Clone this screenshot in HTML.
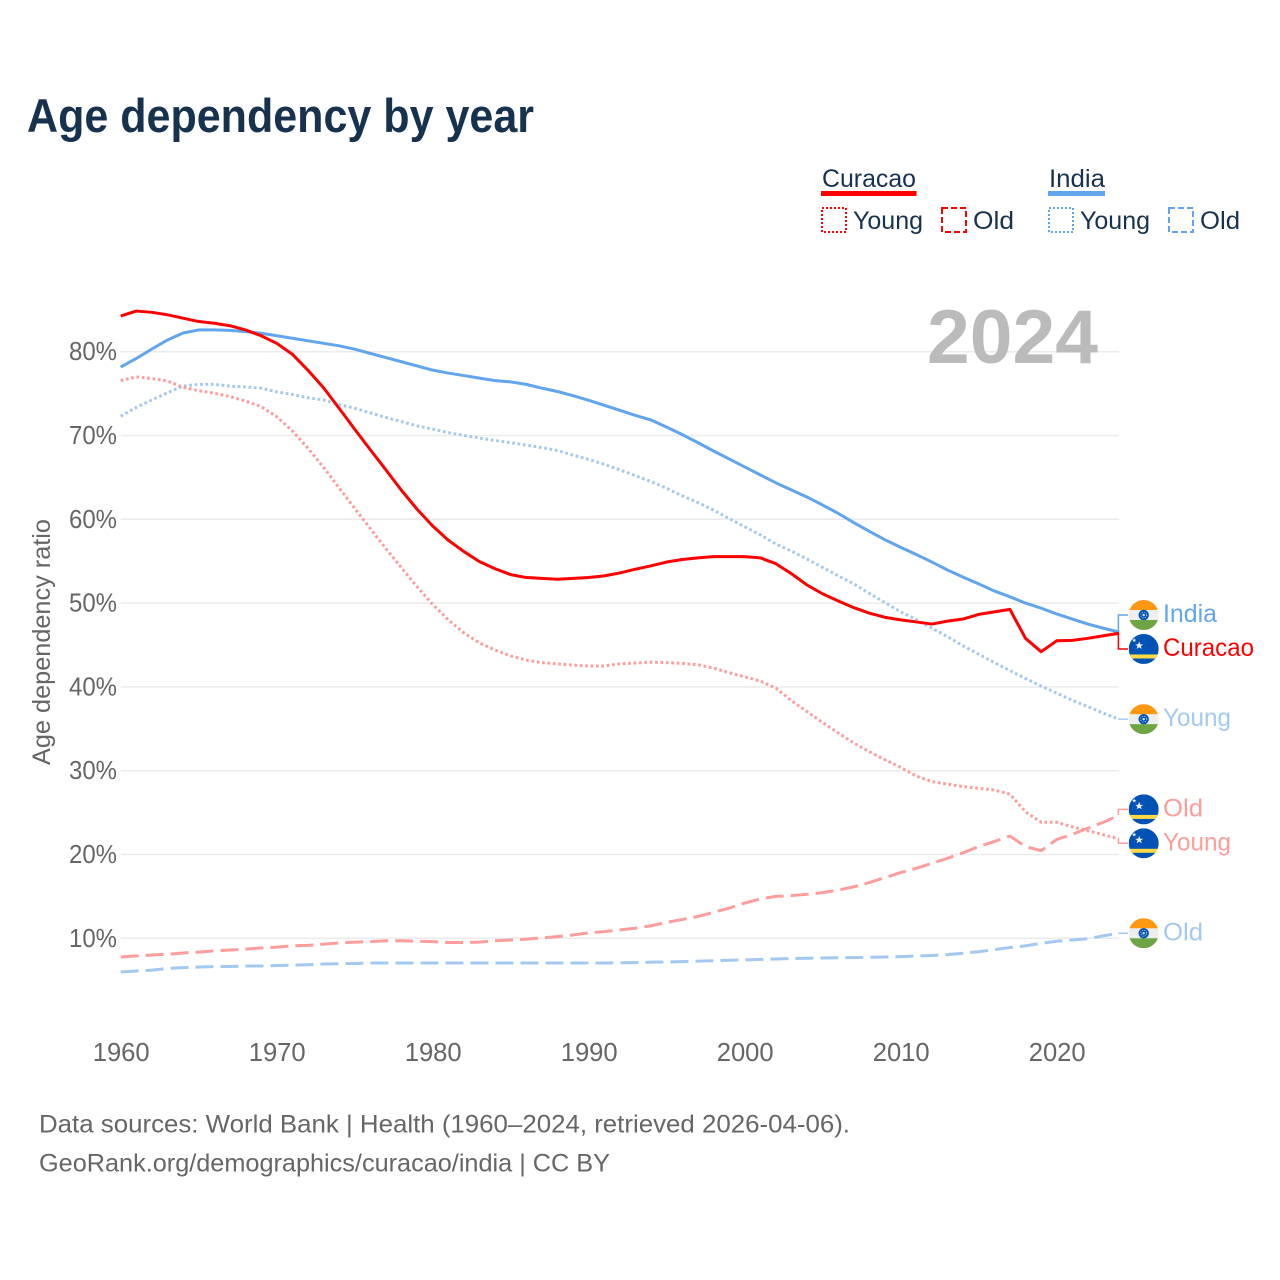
<!DOCTYPE html>
<html lang="en">
<head>
<meta charset="utf-8">
<title>Age dependency by year</title>
<style>
  html, body { margin: 0; padding: 0; background: #fff; }
  svg { display: block; font-family: "Liberation Sans", sans-serif; }
</style>
</head>
<body>
<svg id="chart" xmlns="http://www.w3.org/2000/svg" width="1280" height="1280" viewBox="0 0 1280 1280">
  <defs>
    <clipPath id="flag-clip"><circle cx="0" cy="0" r="15"></circle></clipPath>
    <g id="flag-india" clip-path="url(#flag-clip)">
      <rect x="-15" y="-15" width="30" height="30" fill="#eeeeee"></rect>
      <rect x="-15" y="-15" width="30" height="10" fill="#ff9811"></rect>
      <rect x="-15" y="5" width="30" height="10" fill="#6da544"></rect>
      <circle r="5.2" fill="#0052b4"></circle>
      <circle r="3" fill="none" stroke="#b9cfe8" stroke-width="0.9" stroke-dasharray="1.2 1.2"></circle>
      <circle r="1.2" fill="#dfe8f2"></circle>
    </g>
    <g id="flag-curacao" clip-path="url(#flag-clip)">
      <rect x="-15" y="-15" width="30" height="30" fill="#0052b4"></rect>
      <rect x="-15" y="5.5" width="30" height="4" fill="#ffda44"></rect>
      <polygon points="-4.5,-7.5 -3.4,-4.6 -0.4,-4.6 -2.8,-2.8 -1.9,0 -4.5,-1.7 -7.1,0 -6.2,-2.8 -8.6,-4.6 -5.6,-4.6" fill="#eeeeee"></polygon>
      <polygon points="-9.5,-11 -8.9,-9.4 -7.3,-9.4 -8.6,-8.4 -8.1,-6.8 -9.5,-7.8 -10.9,-6.8 -10.4,-8.4 -11.7,-9.4 -10.1,-9.4" fill="#eeeeee"></polygon>
    </g>
  </defs>

  <rect x="0" y="0" width="1280" height="1280" fill="#ffffff"></rect>

  <text x="27" y="132" font-size="47" font-weight="700" fill="#17324f" textLength="507" lengthAdjust="spacingAndGlyphs">Age dependency by year</text>

  <g font-size="25" fill="#17324f">
    <text x="822" y="187" textLength="94" lengthAdjust="spacingAndGlyphs">Curacao</text>
    <rect x="821" y="191" width="95.5" height="5" fill="#ff0000"></rect>
    <rect x="822" y="208" width="24" height="24" fill="none" stroke="#ff0000" stroke-width="2" stroke-dasharray="2 2"></rect>
    <text x="853" y="229" textLength="70" lengthAdjust="spacingAndGlyphs">Young</text>
    <rect x="942" y="208" width="24" height="24" fill="none" stroke="#ff0000" stroke-width="2" stroke-dasharray="6 3"></rect>
    <text x="973" y="229" textLength="41" lengthAdjust="spacingAndGlyphs">Old</text>

    <text x="1049" y="187" textLength="56" lengthAdjust="spacingAndGlyphs">India</text>
    <rect x="1048" y="191" width="57" height="5" fill="#60a5ee"></rect>
    <rect x="1049" y="208" width="24" height="24" fill="none" stroke="#60a5ee" stroke-width="2" stroke-dasharray="2 2"></rect>
    <text x="1080" y="229" textLength="70" lengthAdjust="spacingAndGlyphs">Young</text>
    <rect x="1169" y="208" width="24" height="24" fill="none" stroke="#60a5ee" stroke-width="2" stroke-dasharray="6 3"></rect>
    <text x="1200" y="229" textLength="40" lengthAdjust="spacingAndGlyphs">Old</text>
  </g>

  <text transform="translate(50,642) rotate(-90)" text-anchor="middle" font-size="25" fill="#666666" textLength="246" lengthAdjust="spacingAndGlyphs">Age dependency ratio</text>

  <g id="grid"></g>
  <g id="y-ticks"></g>
  <g id="x-ticks"></g>

  <text x="927" y="363" font-size="76" font-weight="700" fill="#bbbbbb" textLength="171" lengthAdjust="spacingAndGlyphs">2024</text>

  <g id="series"></g>
  <g id="end-labels"></g>

  <text x="39" y="1132.5" font-size="25" fill="#666666" textLength="811" lengthAdjust="spacingAndGlyphs">Data sources: World Bank | Health (1960–2024, retrieved 2026-04-06).</text>
  <text x="39" y="1171.5" font-size="25" fill="#666666" textLength="571" lengthAdjust="spacingAndGlyphs">GeoRank.org/demographics/curacao/india | CC BY</text>

<script>
const startYear = 1960;
const xTickLabels = [1960, 1970, 1980, 1990, 2000, 2010, 2020];
const yTickLabels = [10, 20, 30, 40, 50, 60, 70, 80];

const curacaoTotal = [
  84.26, 84.85, 84.7, 84.4, 84.0, 83.6, 83.4, 83.1, 82.6, 81.9,
  81.0, 79.7, 77.8, 75.7, 73.25, 70.75, 68.3, 65.9, 63.45, 61.2,
  59.2, 57.5, 56.15, 54.95, 54.1, 53.4, 53.05, 52.95, 52.85, 52.95,
  53.05, 53.25, 53.6, 54.05, 54.45, 54.9, 55.2, 55.4, 55.55, 55.55,
  55.55, 55.4, 54.7, 53.5, 52.15, 51.1, 50.25, 49.45, 48.8, 48.3,
  48.0, 47.75, 47.5, 47.85, 48.1, 48.65, 48.95, 49.25, 45.8, 44.2,
  45.5, 45.55, 45.8, 46.1, 46.4
];
const indiaTotal = [
  78.17, 79.19, 80.32, 81.4, 82.23, 82.6, 82.6, 82.55, 82.4, 82.2,
  81.9, 81.6, 81.3, 81.0, 80.7, 80.3, 79.8, 79.3, 78.8, 78.3,
  77.8, 77.45, 77.15, 76.85, 76.55, 76.4, 76.1, 75.65, 75.25, 74.75,
  74.2, 73.6, 73.0, 72.4, 71.85, 71.0, 70.1, 69.15, 68.15, 67.2,
  66.25, 65.3, 64.35, 63.5, 62.65, 61.7, 60.7, 59.6, 58.55, 57.55,
  56.65, 55.8, 54.9, 53.95, 53.1, 52.3, 51.45, 50.75, 50.0, 49.4,
  48.7, 48.1, 47.5, 47.0, 46.55
];
const curacaoYoung = [
  76.55, 77.0, 76.8, 76.5, 75.75, 75.35, 75.05, 74.65, 74.1, 73.45,
  72.25, 70.55, 68.5, 66.2, 63.75, 61.3, 58.9, 56.5, 54.2, 51.95,
  49.85, 48.0, 46.45, 45.25, 44.4, 43.7, 43.2, 42.9, 42.75, 42.6,
  42.5, 42.5, 42.75, 42.85, 42.95, 42.9, 42.8, 42.65, 42.25, 41.7,
  41.2, 40.7, 39.85, 38.35, 37.05, 35.75, 34.5, 33.3, 32.25, 31.3,
  30.4, 29.35, 28.7, 28.4, 28.1, 27.9, 27.7, 27.2, 25.1, 23.85,
  23.85, 23.3, 22.85, 22.35, 21.85
];
const indiaYoung = [
  72.3, 73.35, 74.25, 75.1, 75.9, 76.1, 76.1, 75.9, 75.8, 75.65,
  75.2, 74.9, 74.5, 74.25, 73.7, 73.25, 72.7, 72.15, 71.65, 71.15,
  70.75, 70.35, 70.0, 69.7, 69.4, 69.15, 68.85, 68.55, 68.2, 67.65,
  67.15, 66.55, 65.9, 65.2, 64.5, 63.7, 62.8, 62.0, 61.1, 60.1,
  59.1, 58.15, 57.05, 56.2, 55.25, 54.25, 53.25, 52.3, 51.15, 50.05,
  48.95, 48.05, 47.0, 46.0, 44.9, 43.9, 42.9, 41.95, 41.0, 40.1,
  39.25, 38.4, 37.65, 36.85, 36.15
];
const curacaoOld = [
  7.77, 7.9, 8.0, 8.1, 8.25, 8.35, 8.5, 8.6, 8.7, 8.85,
  8.95, 9.1, 9.15, 9.3, 9.45, 9.55, 9.6, 9.7, 9.7, 9.65,
  9.6, 9.5, 9.5, 9.55, 9.7, 9.8, 9.9, 10.05, 10.2, 10.4,
  10.65, 10.8, 11.0, 11.2, 11.5, 11.9, 12.25, 12.6, 13.1, 13.6,
  14.2, 14.7, 15.0, 15.1, 15.25, 15.45, 15.75, 16.15, 16.65, 17.25,
  17.85, 18.35, 18.95, 19.55, 20.2, 20.95, 21.55, 22.2, 20.95, 20.45,
  21.8, 22.4, 23.15, 23.85, 24.7
];
const indiaOld = [
  5.98, 6.1, 6.2, 6.4, 6.5, 6.57, 6.63, 6.63, 6.7, 6.7,
  6.75, 6.8, 6.85, 6.93, 6.97, 7.0, 7.05, 7.05, 7.05, 7.05,
  7.05, 7.05, 7.05, 7.05, 7.05, 7.05, 7.05, 7.05, 7.05, 7.05,
  7.05, 7.05, 7.08, 7.1, 7.15, 7.18, 7.22, 7.27, 7.32, 7.38,
  7.42, 7.48, 7.53, 7.58, 7.62, 7.65, 7.68, 7.7, 7.73, 7.77,
  7.82, 7.88, 7.95, 8.05, 8.22, 8.4, 8.65, 8.9, 9.1, 9.4,
  9.65, 9.8, 9.95, 10.3, 10.6
];

const NS = 'http://www.w3.org/2000/svg';
function xScale(year) { return 120.7 + (year - 1960) * 15.6; }
function yScale(v) { return 1022.1 - v * 8.38; }
function make(tag, attrs, parent) {
  const el = document.createElementNS(NS, tag);
  for (const k in attrs) el.setAttribute(k, attrs[k]);
  parent.appendChild(el);
  return el;
}

const gridGroup = document.getElementById('grid');
const yTickGroup = document.getElementById('y-ticks');
const xTickGroup = document.getElementById('x-ticks');
const seriesGroup = document.getElementById('series');
const labelGroup = document.getElementById('end-labels');
const lastYear = startYear + indiaTotal.length - 1;

yTickLabels.forEach(function (t) {
  const line = make('line', { x1: xScale(1960), x2: xScale(lastYear), y1: yScale(t), y2: yScale(t), stroke: '#ebebeb', 'stroke-width': 1.5 }, gridGroup);
  
  
  const label = make('text', { x: 117, y: yScale(t) + 8.5, 'text-anchor': 'end', 'font-size': 25.6, fill: '#666666', textLength: 48, lengthAdjust: 'spacingAndGlyphs' }, yTickGroup);
  label.textContent = t + '%';
  
  
});

xTickLabels.forEach(function (t) {
  const label = make('text', { x: xScale(t) + 0.5, y: 1061, 'text-anchor': 'middle', 'font-size': 25.6, fill: '#666666' }, xTickGroup);
  label.textContent = t;
  
  
});

function drawSeries(name, values, color, width, dash) {
  const d = values.map(function (v, i) {
    return (i ? 'L' : 'M') + xScale(startYear + i).toFixed(2) + ' ' + yScale(v).toFixed(2);
  }).join(' ');
  const attrs = { d: d, fill: 'none', stroke: color, 'stroke-width': width, 'stroke-linejoin': 'round' };
  if (dash) attrs['stroke-dasharray'] = dash;
  const path = make('path', attrs, seriesGroup);
  
  
}

drawSeries('line-india-old', indiaOld, '#a3c9f1', 3, '18 7');
drawSeries('line-curacao-old', curacaoOld, '#ff9c9c', 3, '18 7');
drawSeries('line-india-young', indiaYoung, '#a3c9f1', 3, '2.7 2.7');
drawSeries('line-curacao-young', curacaoYoung, '#ff9c9c', 3, '2.7 2.7');
drawSeries('line-india-total', indiaTotal, '#60a5ee', 3);
drawSeries('line-curacao-total', curacaoTotal, '#ff0000', 3);

function drawEndLabel(name, text, values, dodge, flag, color, textWidth) {
  const endValue = values[values.length - 1];
  const x0 = xScale(lastYear) - 0.7;
  const y0 = yScale(endValue);
  const yL = y0 + dodge;
  const conn = make('path', { d: 'M' + x0 + ' ' + y0 + ' V' + yL + ' H1128', fill: 'none', stroke: color, 'stroke-width': 1.5 }, labelGroup);
  
  
  const icon = make('use', { href: '#flag-' + flag, transform: 'translate(1143.7,' + yL + ')' }, labelGroup);
  
  
  const label = make('text', { x: 1163, y: yL + 7, 'font-size': 25, fill: color, textLength: textWidth, lengthAdjust: 'spacingAndGlyphs' }, labelGroup);
  label.textContent = text;
  
  
}

drawEndLabel('end-india-total', 'India', indiaTotal, -17, 'india', '#60a5ee', 54);
drawEndLabel('end-curacao-total', 'Curacao', curacaoTotal, 15.7, 'curacao', '#ff0000', 91);
drawEndLabel('end-india-young', 'Young', indiaYoung, 0, 'india', '#a3c9f1', 68);
drawEndLabel('end-curacao-old', 'Old', curacaoOld, -5.7, 'curacao', '#ff9c9c', 40);
drawEndLabel('end-curacao-young', 'Young', curacaoYoung, 4.3, 'curacao', '#ff9c9c', 68);
drawEndLabel('end-india-old', 'Old', indiaOld, 0, 'india', '#a3c9f1', 40);
</script>
</svg>
</body>
</html>
